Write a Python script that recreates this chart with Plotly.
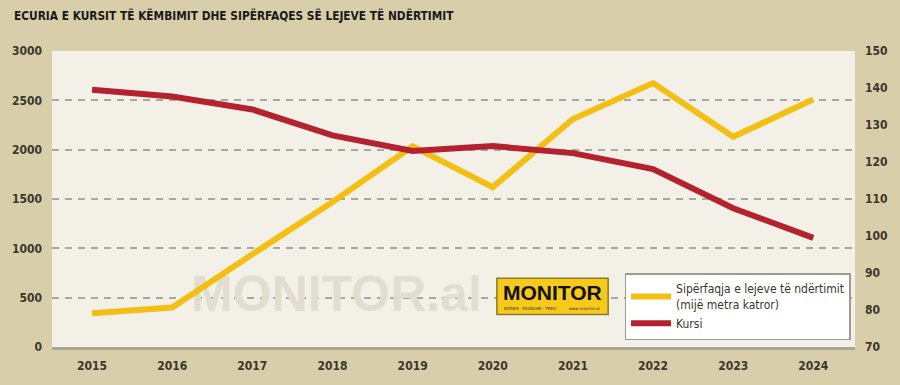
import plotly.graph_objects as go

years = [2015, 2016, 2017, 2018, 2019, 2020, 2021, 2022, 2023, 2024]
siperfaqja = [342, 400, 940, 1470, 2035, 1620, 2310, 2675, 2130, 2510]
kursi = [139.5, 137.7, 134.2, 127.2, 123.0, 124.3, 122.4, 118.1, 107.5, 99.5]

left_ticks = [0, 500, 1000, 1500, 2000, 2500, 3000]
right_ticks = [70, 80, 90, 100, 110, 120, 130, 140, 150]

title_text = "ECURIA E KURSIT TË KËMBIMIT DHE SIPËRFAQES SË LEJEVE TË NDËRTIMIT"
name_siperfaqja = "Sipërfaqja e lejeve të ndërtimit<br>(mijë metra katror)"
name_kursi = "Kursi"

FONT = "DejaVu Sans Condensed, sans-serif"
TXT = "#3a372c"
YELLOW = "#f4bf14"
RED = "#b4222f"

fig = go.Figure()

# watermark (drawn first so lines sit above it)
fig.add_trace(go.Scatter(
    x=[2018.05], y=[490], mode="text", text=["<b>MONITOR.al</b>"],
    textfont=dict(family="Liberation Sans, Arial, sans-serif", size=50, color="#e1ded1"),
    hoverinfo="skip", showlegend=False, cliponaxis=False))

fig.add_trace(go.Scatter(
    x=years, y=siperfaqja, mode="lines", name=name_siperfaqja,
    line=dict(color=YELLOW, width=6), yaxis="y"))
fig.add_trace(go.Scatter(
    x=years, y=kursi, mode="lines", name=name_kursi,
    line=dict(color=RED, width=6), yaxis="y2"))

fig.update_layout(
    width=900, height=385,
    margin=dict(l=48, r=42, t=51, b=30),
    paper_bgcolor="#d8cfaa",
    plot_bgcolor="#f3f1e7",
    font=dict(family=FONT, color=TXT, size=12),
    showlegend=True,
    legend=dict(
        x=0.713, y=0.25, xanchor="left", yanchor="top",
        bgcolor="#ffffff", bordercolor="#9e9b90", borderwidth=1.5,
        font=dict(family=FONT, size=12, color=TXT),
        itemwidth=40, tracegroupgap=2,
    ),
    xaxis=dict(
        range=[2014.5, 2024.52], tickvals=years, ticktext=[str(y) for y in years],
        showgrid=False, zeroline=False, showline=True, linecolor="#aaa696", linewidth=3,
        ticks="", tickfont=dict(family=FONT, size=12, color=TXT, weight="bold"),
        ticklabelstandoff=6,
    ),
    yaxis=dict(
        range=[0, 3000], tickvals=left_ticks, showgrid=True, gridcolor="#a8a7a0",
        gridwidth=2, griddash="7px,6px", zeroline=False, ticks="",
        tickfont=dict(family=FONT, size=12, color=TXT, weight="bold"),
        ticklabelstandoff=9,
    ),
    yaxis2=dict(
        range=[70, 150], tickvals=right_ticks, overlaying="y", side="right",
        showgrid=False, zeroline=False, ticks="",
        tickfont=dict(family=FONT, size=12, color=TXT, weight="bold"),
        ticklabelstandoff=9,
    ),
)

# title
fig.add_annotation(
    text="<b>" + title_text + "</b>", xref="paper", yref="paper",
    x=-0.0495, y=1.0, yshift=36, xanchor="left", yanchor="middle", showarrow=False,
    font=dict(family=FONT, size=11.8, color="#1a1a1a"))

# MONITOR logo
fig.add_shape(type="rect", xref="paper", yref="paper",
              x0=0.554, x1=0.6926, y0=0.110, y1=0.232,
              fillcolor="#f6c91b", line=dict(color="#8a7a2a", width=1.5))
fig.add_annotation(text="<b>MONITOR</b>", xref="paper", yref="paper",
                   x=0.623, y=0.183, xanchor="center", yanchor="middle", showarrow=False,
                   font=dict(family="Liberation Sans, Arial, sans-serif", size=21, color="#111111"))
fig.add_annotation(text="BIZNES · EKONOMI · TREG          www.monitor.al", xref="paper", yref="paper",
                   x=0.623, y=0.131, xanchor="center", yanchor="middle", showarrow=False,
                   font=dict(family="DejaVu Sans", size=4, color="#333333"))

fig.write_html("out.html")
